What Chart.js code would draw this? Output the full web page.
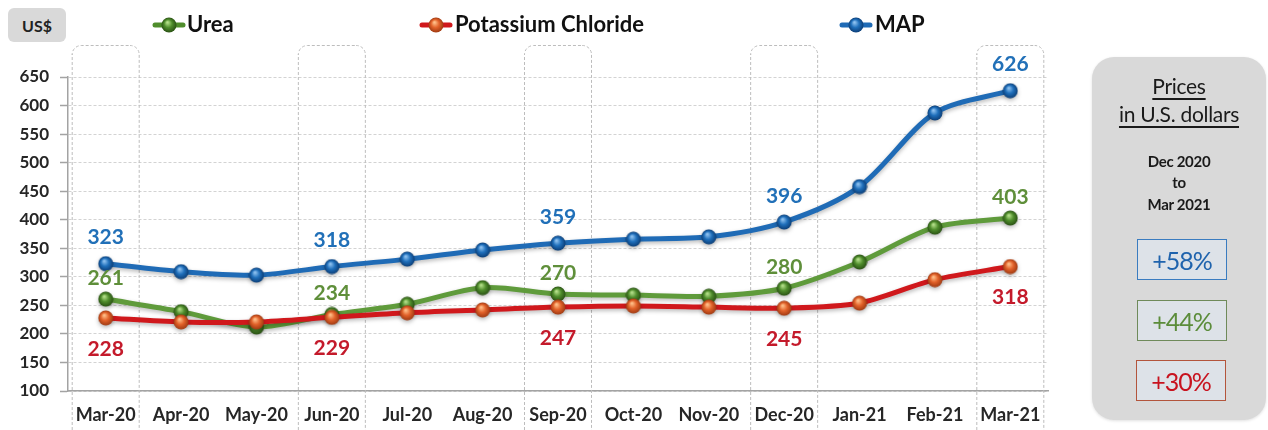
<!DOCTYPE html>
<html>
<head>
<meta charset="utf-8">
<title>Fertilizer prices</title>
<script src="https://cdn.jsdelivr.net/npm/chart.js@4.4.1/dist/chart.umd.min.js"></script>
<style>
  html, body { margin: 0; padding: 0; background: #fff; }
  #wrap { position: relative; width: 1268px; height: 430px; overflow: hidden; font-family: Lato, "Open Sans", sans-serif; }
  #chart { position: absolute; left: 0; top: 0; }
  .unit { position: absolute; left: 8px; top: 8px; width: 58px; height: 34px; background: #d9d9d9; border-radius: 6px;
          font: bold 16px Lato, sans-serif; color: #222; display: flex; align-items: center; justify-content: center; }
  .panel { position: absolute; left: 1092px; top: 57px; width: 174px; height: 363px; background: #d9d9d9; border-radius: 22px;
           box-shadow: 0 1px 3px rgba(0,0,0,0.12); }
  .panel .t { position: absolute; left: 0; width: 100%; text-align: center; color: #1a1a1a; white-space: nowrap; }
  .hdr { font: 21px Lato, sans-serif; line-height: 24px; letter-spacing: -0.3px; text-decoration: underline; text-decoration-thickness: 2px; text-underline-offset: 4px; }
  .per { font: bold 15px Lato, sans-serif; line-height: 18px; letter-spacing: -0.3px; }
  .chg { position: absolute; width: 88px; height: 39px; border: 1.5px solid; background: #dde2e8;
         font: 25px Lato, sans-serif; letter-spacing: -1px; display: flex; align-items: center; justify-content: center; }
</style>
</head>
<body>
<div id="wrap">
  <canvas id="chart" width="1268" height="430"></canvas>
  <div class="unit">US$</div>
  <div class="panel">
    <div class="t hdr" style="top:17px">Prices</div>
    <div class="t hdr" style="top:45px">in U.S. dollars</div>
    <div class="t per" style="top:95px">Dec 2020</div>
    <div class="t per" style="top:116px">to</div>
    <div class="t per" style="top:138px">Mar 2021</div>
  </div>
  <div class="chg" style="left:1137px;top:239px;border-color:#3a7cc0;color:#1f63ad">+58%</div>
  <div class="chg" style="left:1137px;top:300px;border-color:#6f8a5a;color:#5b8c3a">+44%</div>
  <div class="chg" style="left:1136px;top:360px;border-color:#b3553c;color:#c8131f">+30%</div>
</div>
<script>
// Monthly prices, US$ per tonne
const months = ['Mar-20', 'Apr-20', 'May-20', 'Jun-20', 'Jul-20', 'Aug-20', 'Sep-20',
                'Oct-20', 'Nov-20', 'Dec-20', 'Jan-21', 'Feb-21', 'Mar-21'];
const urea = [261, 239, 212, 234, 252, 281, 270, 268, 266, 280, 326, 387, 403];
const potassiumChloride = [228, 221, 221, 229, 237, 242, 247, 249, 247, 245, 254, 295, 318];
const mapPrices = [323, 309, 303, 318, 331, 347, 359, 366, 370, 396, 458, 587, 626];
const yTicks = [100, 150, 200, 250, 300, 350, 400, 450, 500, 550, 600, 650];
// Quarter months that get a highlight frame and value labels
const labelledMonths = ['Mar-20', 'Jun-20', 'Sep-20', 'Dec-20', 'Mar-21'];

// Glossy sphere marker
function sphere(light, mid, dark, size) {
  const c = document.createElement('canvas');
  c.width = c.height = size;
  const g = c.getContext('2d');
  const r = size / 2 - 0.5;
  const grad = g.createRadialGradient(size * 0.4, size * 0.33, 0.5, size / 2, size / 2, r);
  grad.addColorStop(0, light);
  grad.addColorStop(0.5, mid);
  grad.addColorStop(1, dark);
  g.fillStyle = grad;
  g.beginPath();
  g.arc(size / 2, size / 2, r, 0, Math.PI * 2);
  g.fill();
  return c;
}
// Legend key: short line with the sphere on it
function legendKey(lineColor, ball) {
  const c = document.createElement('canvas');
  c.width = 34; c.height = 18;
  const g = c.getContext('2d');
  g.strokeStyle = lineColor; g.lineWidth = 5; g.lineCap = 'round';
  g.beginPath(); g.moveTo(3, 9); g.lineTo(31, 9); g.stroke();
  g.drawImage(ball, 17 - ball.width / 2, 9 - ball.height / 2);
  return c;
}

const ureaBall = sphere('#b5e08a', '#4f8d2c', '#2a5214', 16);
const kclBall = sphere('#ffc08a', '#e2622a', '#a03a12', 16);
const mapBall = sphere('#8fc2f0', '#1f6fbb', '#0c3f78', 16);

const labelIdx = labelledMonths.map(m => months.indexOf(m));

// Dashed rounded frames around the quarter months
const frames = {
  id: 'frames',
  beforeDatasetsDraw(chart) {
    const { ctx, scales: { x } } = chart;
    ctx.save();
    ctx.strokeStyle = '#bdbdbd';
    ctx.lineWidth = 1;
    ctx.setLineDash([3, 2]);
    labelIdx.forEach(i => {
      const cx = x.getPixelForValue(i);
      const l = cx - 34, r = cx + 34, t = 45, b = 445, rad = 9;
      ctx.beginPath();
      ctx.moveTo(l + 0.5, b);
      ctx.lineTo(l + 0.5, t + rad);
      ctx.arcTo(l + 0.5, t + 0.5, l + rad, t + 0.5, rad);
      ctx.lineTo(r - rad, t + 0.5);
      ctx.arcTo(r - 0.5, t + 0.5, r - 0.5, t + rad, rad);
      ctx.lineTo(r - 0.5, b);
      ctx.stroke();
    });
    ctx.restore();
  }
};

// Soft shadow under each series
const lineShadow = {
  id: 'lineShadow',
  beforeDatasetDraw(chart) {
    const ctx = chart.ctx;
    ctx.save();
    ctx.shadowColor = 'rgba(0,0,0,0.28)';
    ctx.shadowBlur = 4;
    ctx.shadowOffsetY = 2;
  },
  afterDatasetDraw(chart) { chart.ctx.restore(); }
};

// Value labels at the quarter months
const valueLabels = {
  id: 'valueLabels',
  afterDatasetsDraw(chart) {
    const ctx = chart.ctx;
    ctx.save();
    ctx.font = 'bold 21px Lato, sans-serif';
    ctx.textAlign = 'center';
    ctx.textBaseline = 'middle';
    chart.data.datasets.forEach((ds, di) => {
      const meta = chart.getDatasetMeta(di);
      ctx.fillStyle = ds.labelColor;
      labelIdx.forEach(i => {
        const pt = meta.data[i];
        ctx.fillText(String(ds.data[i]), pt.x, pt.y + ds.labelOffset);
      });
    });
    ctx.restore();
  }
};

// Legend row across the top
const topLegend = {
  id: 'topLegend',
  afterDraw(chart) {
    const ctx = chart.ctx;
    const keyX = [169, 436, 856];
    const textX = [187, 455, 875];
    ctx.save();
    ctx.font = 'bold 22px Lato, sans-serif';
    ctx.textBaseline = 'middle';
    ctx.fillStyle = '#111';
    chart.data.datasets.forEach((ds, i) => {
      const key = ds.legendKey;
      ctx.drawImage(key, keyX[i] - key.width / 2, 25 - key.height / 2);
      ctx.fillText(ds.label, textX[i], 25);
    });
    ctx.restore();
  }
};

new Chart(document.getElementById('chart'), {
  type: 'line',
  data: {
    labels: months,
    datasets: [
      { label: 'Urea', data: urea, borderColor: '#5f9b3b', pointStyle: ureaBall, order: 1,
        labelColor: '#5f8f3a', labelOffset: -21, legendKey: legendKey('#4f8d2c', ureaBall) },
      { label: 'Potassium Chloride', data: potassiumChloride, borderColor: '#d0181c', pointStyle: kclBall, order: 0,
        labelColor: '#c41a2b', labelOffset: 31, legendKey: legendKey('#d0181c', kclBall) },
      { label: 'MAP', data: mapPrices, borderColor: '#1f6bb6', pointStyle: mapBall, order: 2,
        labelColor: '#2170b8', labelOffset: -26, legendKey: legendKey('#1f6bb6', mapBall) }
    ]
  },
  options: {
    responsive: false,
    animation: false,
    layout: { padding: { top: 77, left: 0, right: 220, bottom: 0 } },
    elements: {
      line: { borderWidth: 5, tension: 0.3, borderCapStyle: 'round', borderJoinStyle: 'round' },
      point: { radius: 8, hoverRadius: 8 }
    },
    plugins: { legend: { display: false }, tooltip: { enabled: false } },
    scales: {
      x: {
        offset: true,
        grid: { display: false, drawTicks: false },
        border: { display: true, color: '#a3a3a3', width: 1.5 },
        ticks: { color: '#262626', font: { family: 'Lato', weight: 'bold', size: 18 }, padding: 13, maxRotation: 0, autoSkip: false },
        afterFit(scale) { scale.height = 39; }
      },
      y: {
        min: 100, max: 650,
        afterBuildTicks(scale) { scale.ticks = yTicks.map(v => ({ value: v })); },
        grid: { color: '#d3d3d3', lineWidth: 1, drawTicks: true, tickLength: 8, tickColor: '#a3a3a3', tickWidth: 1.5 },
        border: { display: true, color: '#a3a3a3', width: 1.5, dash: [3, 2] },
        ticks: { color: '#262626', font: { family: 'Lato', weight: 'bold', size: 17 }, padding: 11 },
        afterFit(scale) { scale.width = 68; }
      }
    }
  },
  plugins: [frames, lineShadow, valueLabels, topLegend]
});
</script>
</body>
</html>
